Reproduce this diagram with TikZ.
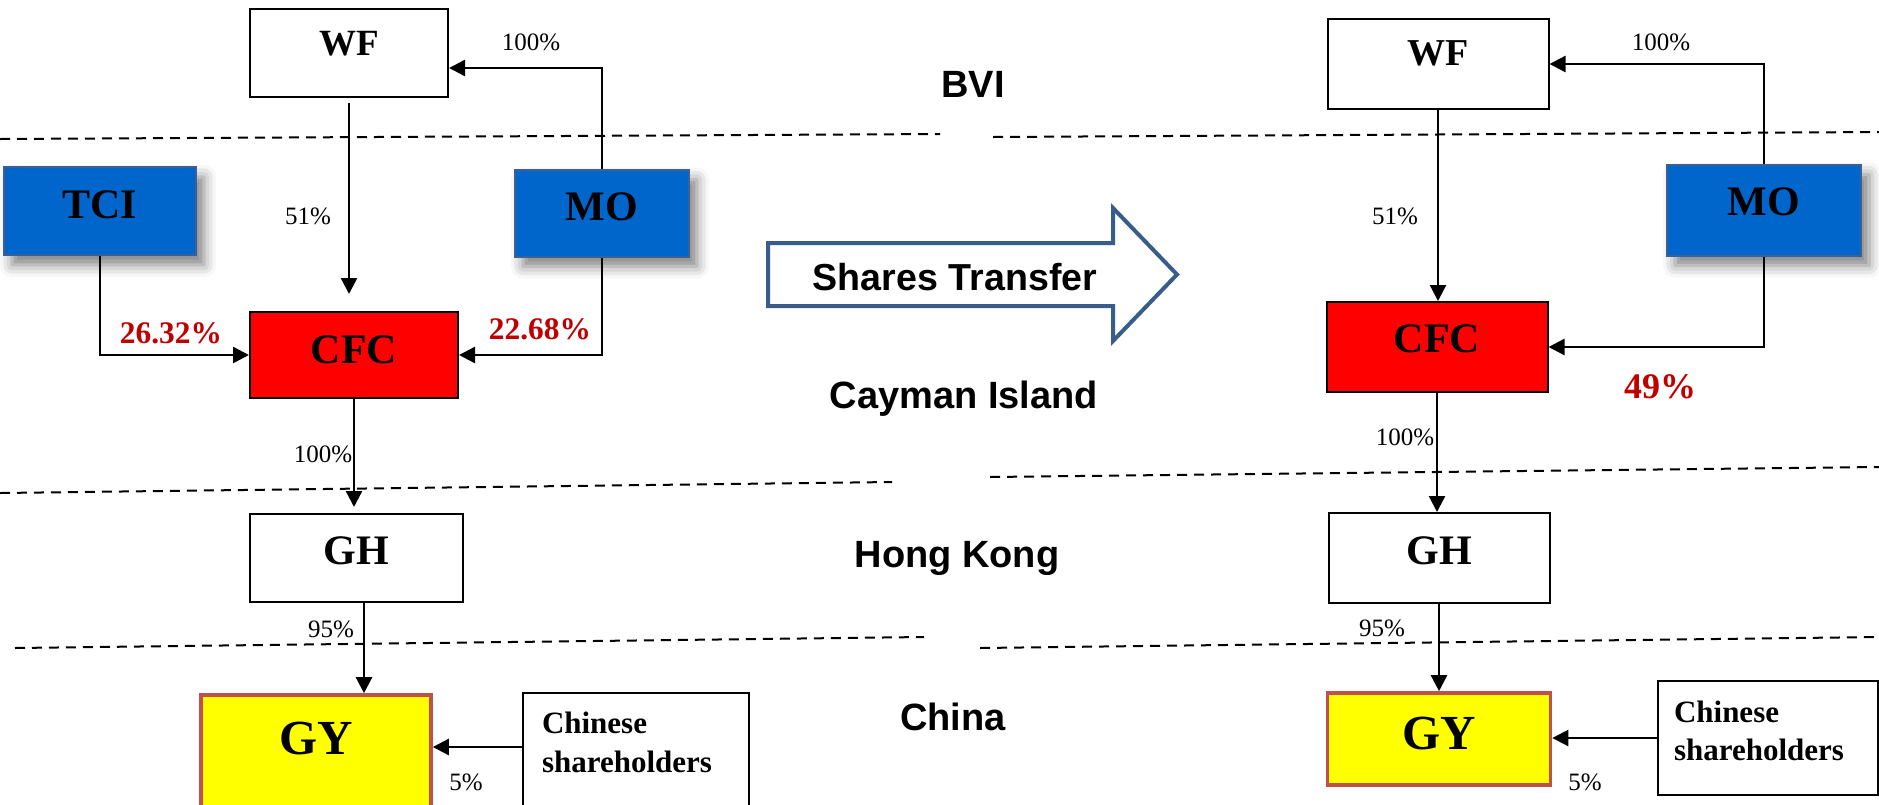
\documentclass[tikz,border=0pt]{standalone}
\usepackage{fontspec}
\setmainfont{Liberation Serif}
\newfontfamily\regionfont{Liberation Sans}
\usetikzlibrary{arrows.meta,shadows.blur}

\definecolor{moblue}{RGB}{0,102,204}
\definecolor{moedge}{RGB}{58,96,150}
\definecolor{cfcred}{RGB}{255,0,0}
\definecolor{gyyellow}{RGB}{255,255,0}
\definecolor{gyedge}{RGB}{192,80,77}
\definecolor{pctred}{RGB}{192,0,0}
\definecolor{transferedge}{RGB}{56,93,138}

\begin{document}
\begin{tikzpicture}[x=0.5pt, y=-0.5pt,
  box/.style = {draw, line width=1pt, inner sep=0pt, text depth=7pt, font=\fontsize{21}{25}\selectfont\bfseries},
  bluebox/.style = {box, fill=moblue, draw=moedge, blur shadow={shadow xshift=4pt, shadow yshift=-5pt, shadow blur radius=6pt, shadow opacity=50}},
  gybox/.style = {box, fill=gyyellow, draw=gyedge, line width=1.8pt, font=\fontsize{24.5}{28}\selectfont\bfseries},
  chbox/.style = {box, text depth=, align=left, text width=94pt, font=\fontsize{15.5}{19.25}\selectfont\bfseries},
  pct/.style = {inner sep=0pt, font=\fontsize{12.5}{15}\selectfont},
  redpct/.style = {inner sep=0pt, text=pctred, font=\fontsize{15.7}{18}\selectfont\bfseries},
  region/.style = {inner sep=0pt, anchor=base, font=\regionfont\fontsize{19}{23}\selectfont\bfseries},
  own/.style = {line width=1.2pt, -{Triangle[length=8pt,width=8pt]}},
  zone/.style = {line width=1pt, dash pattern=on 5pt off 3.5pt}
]
\useasboundingbox (0,0) rectangle (1879,804);

\draw[zone] (0,139) -- (940,134);
\draw[zone] (0,493) -- (892,482);
\draw[zone] (15,648) -- (924,637);
\draw[zone] (993,137) -- (1879,132);
\draw[zone] (990,477) -- (1879,467);
\draw[zone] (980,648) -- (1879,637);

\node[box, minimum width=99pt, minimum height=44pt, text depth=10pt, font=\fontsize{18.5}{22}\selectfont\bfseries] (wf1) at (349,53) {WF};
\node[bluebox, minimum width=96pt, minimum height=44pt, text depth=6pt] (tci) at (100,211) {TCI};
\node[bluebox, minimum width=87pt, minimum height=43.5pt, text depth=6pt] (mo1) at (602,213) {MO};
\node[box, fill=cfcred, minimum width=104pt, minimum height=43pt, text depth=5pt] (cfc1) at (354,355) {CFC};
\node[box, minimum width=106.5pt, minimum height=44pt] (gh1) at (356,558) {GH};
\node[gybox, minimum width=115pt, minimum height=60pt, text depth=17pt] (gy1) at (316,755) {GY};
\node[chbox, minimum width=113pt, minimum height=62pt] (ch1) at (636,755) {Chinese\\shareholders\\[-6.25pt]\mbox{}};

\node[box, minimum width=110.5pt, minimum height=45pt, text depth=11pt, font=\fontsize{19}{22}\selectfont\bfseries] (wf2) at (1438,64) {WF};
\node[bluebox, minimum width=97pt, minimum height=45.5pt, text depth=8pt] (mo2) at (1764,210) {MO};
\node[box, fill=cfcred, minimum width=110.5pt, minimum height=45pt, text depth=8pt] (cfc2) at (1437,347) {CFC};
\node[box, minimum width=110.5pt, minimum height=45pt] (gh2) at (1439,558) {GH};
\node[gybox, minimum width=111.5pt, minimum height=46pt, text depth=6pt] (gy2) at (1439,739) {GY};
\node[chbox, minimum width=110pt, minimum height=57pt] (ch2) at (1768,738) {Chinese\\shareholders\\[-11.75pt]\mbox{}};

\draw[own, shorten <=2.5pt, shorten >=8.5pt] (wf1.south) -- (wf1.south |- cfc1.north);
\draw[own] (mo1.north) |- ([yshift=-7.5pt]wf1.east);
\draw[own] (tci.south) |- (cfc1.west);
\draw[own] (mo1.south) |- (cfc1.east);
\draw[own, shorten >=3pt] (cfc1.south) -- (cfc1.south |- gh1.north);
\draw[own] ([xshift=4pt]gh1.south) -- ([xshift=4pt]gh1.south |- gy1.north);
\draw[own] ([yshift=4pt]ch1.west) -- ([yshift=4pt]ch1.west -| gy1.east);

\draw[own] (wf2.south) -- (wf2.south |- cfc2.north);
\draw[own] (mo2.north) |- (wf2.east);
\draw[own] (mo2.south) |- (cfc2.east);
\draw[own] (cfc2.south) -- (cfc2.south |- gh2.north);
\draw[own] (gh2.south) -- (gh2.south |- gy2.north);
\draw[own] (ch2.west) -- (ch2.west -| gy2.east);

\node[pct] (p1) at (531,42) {100\%};
\node[pct] (p2) at (308,216) {51\%};
\node[redpct] (p3) at (171,333) {26.32\%};
\node[redpct] (p4) at (540,329) {22.68\%};
\node[pct] (p5) at (323,454) {100\%};
\node[pct] (p6) at (331,629) {95\%};
\node[pct] (p7) at (466,782) {5\%};

\node[pct] (q1) at (1661,42) {100\%};
\node[pct] (q2) at (1395,216) {51\%};
\node[redpct, font=\fontsize{18}{21}\selectfont\bfseries] (q3) at (1660,387) {49\%};
\node[pct] (q4) at (1405,437) {100\%};
\node[pct] (q5) at (1382,628) {95\%};
\node[pct] (q6) at (1585,782) {5\%};

\node[region] (bvi) at (973,97) {BVI};
\node[region] (cayman) at (964,408) {Cayman Island};
\node[region] (hk) at (957,567) {Hong Kong};
\node[region] (china) at (953,730) {China};

\draw[line width=2pt, draw=transferedge, fill=white] (768,243) -- (1113,243) -- (1113,208) -- (1177,274.5) -- (1113,341) -- (1113,306) -- (768,306) -- cycle;
\node[inner sep=0pt, font=\regionfont\fontsize{18.8}{22}\selectfont\bfseries] (transfer) at (955,277) {Shares Transfer};

\end{tikzpicture}
\end{document}
